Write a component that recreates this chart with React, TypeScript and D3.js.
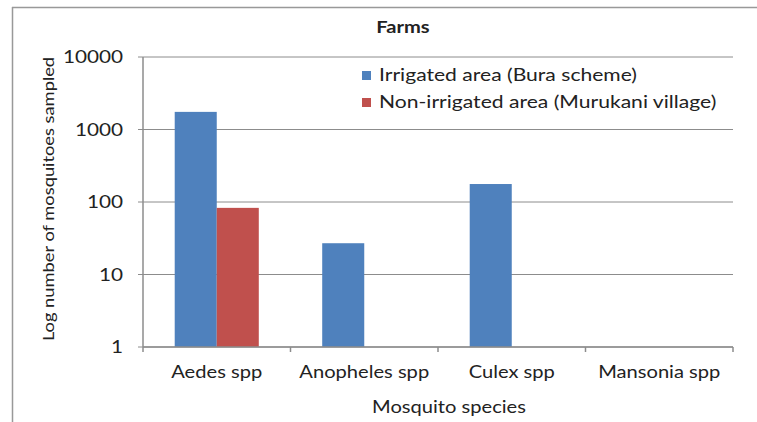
import React from "react";
import * as d3 from "d3";

const categories = ["Aedes spp", "Anopheles spp", "Culex spp", "Mansonia spp"];
const irrigated = [1750, 27, 177, 0];
const nonIrrigated = [83, 0, 0, 0];
const seriesNames = ["Irrigated area (Bura scheme)", "Non-irrigated area (Murukani village)"];
const yTicks = [1, 10, 100, 1000, 10000];

const W = 757, H = 422;
const left = 143, right = 733, top = 57, bottom = 347;
const colors = ["#4F81BD", "#C0504D"];
const font = "Lato, 'Open Sans', sans-serif";
const SX = 1.22;

function SText(props: { x: number; y: number; anchor?: string; size: number; weight?: string; rotate?: number; children: React.ReactNode; dy?: string }) {
  const { x, y, anchor = "start", size, weight = "normal", rotate = 0, children, dy } = props;
  return (
    <g transform={`translate(${x},${y}) rotate(${rotate}) scale(${SX},1)`}>
      <text textAnchor={anchor} dy={dy} fontFamily={font} fontSize={size} fontWeight={weight} fill="#222">{children}</text>
    </g>
  );
}

export default function App() {
  const x = d3.scaleBand<string>().domain(categories).range([left, right]).paddingInner(0.43).paddingOuter(0.215);
  const xs = d3.scaleBand<number>().domain([0, 1]).range([0, x.bandwidth()]);
  const y = d3.scaleLog().domain([1, 10000]).range([bottom, top]);
  const series = [irrigated, nonIrrigated];
  const step = (right - left) / categories.length;
  const boundaries = d3.range(categories.length + 1).map((i) => left + i * step);
  return (
    <svg width={W} height={H} style={{ position: "absolute", left: 0, top: 0, background: "#fff" }}>
      <line x1={12} y1={7.5} x2={757} y2={7.5} stroke="#999" strokeWidth={1.5} />
      <line x1={12.5} y1={7} x2={12.5} y2={422} stroke="#999" strokeWidth={1.5} />
      {yTicks.map((t) => (
        <g key={t}>
          <line x1={left} x2={right} y1={y(t)} y2={y(t)} stroke="#8c8c8c" strokeWidth={1} />
          <line x1={left - 5} x2={left} y1={y(t)} y2={y(t)} stroke="#8c8c8c" strokeWidth={1} />
          <SText x={123} y={y(t)} dy="0.36em" anchor="end" size={17}>{t}</SText>
        </g>
      ))}
      {series.map((vals, si) =>
        vals.map((v, ci) =>
          v > 0 ? (
            <rect key={`${si}-${ci}`} x={(x(categories[ci]) as number) + (xs(si) as number)} width={xs.bandwidth()}
              y={y(v)} height={bottom - y(v)} fill={colors[si]} />
          ) : null
        )
      )}
      <line x1={left} x2={left} y1={top} y2={bottom} stroke="#8c8c8c" strokeWidth={1.5} />
      <line x1={left} x2={right} y1={bottom} y2={bottom} stroke="#8c8c8c" strokeWidth={1.5} />
      {boundaries.map((b, i) => (
        <line key={i} x1={b} x2={b} y1={bottom} y2={bottom + 5} stroke="#8c8c8c" strokeWidth={1.5} />
      ))}
      {categories.map((c) => (
        <SText key={c} x={(x(c) as number) + x.bandwidth() / 2} y={378} anchor="middle" size={16.5}>{c}</SText>
      ))}
      <SText x={449} y={413} anchor="middle" size={16.5}>Mosquito species</SText>
      <SText x={54} y={199} rotate={-90} anchor="middle" size={15}>Log number of mosquitoes sampled</SText>
      <SText x={403} y={33} anchor="middle" size={16.5} weight="bold">Farms</SText>
      {seriesNames.map((n, i) => (
        <g key={n}>
          <rect x={362} y={71 + i * 27} width={9} height={9} fill={colors[i]} />
          <SText x={379} y={81 + i * 27} size={17.3}>{n}</SText>
        </g>
      ))}
    </svg>
  );
}
